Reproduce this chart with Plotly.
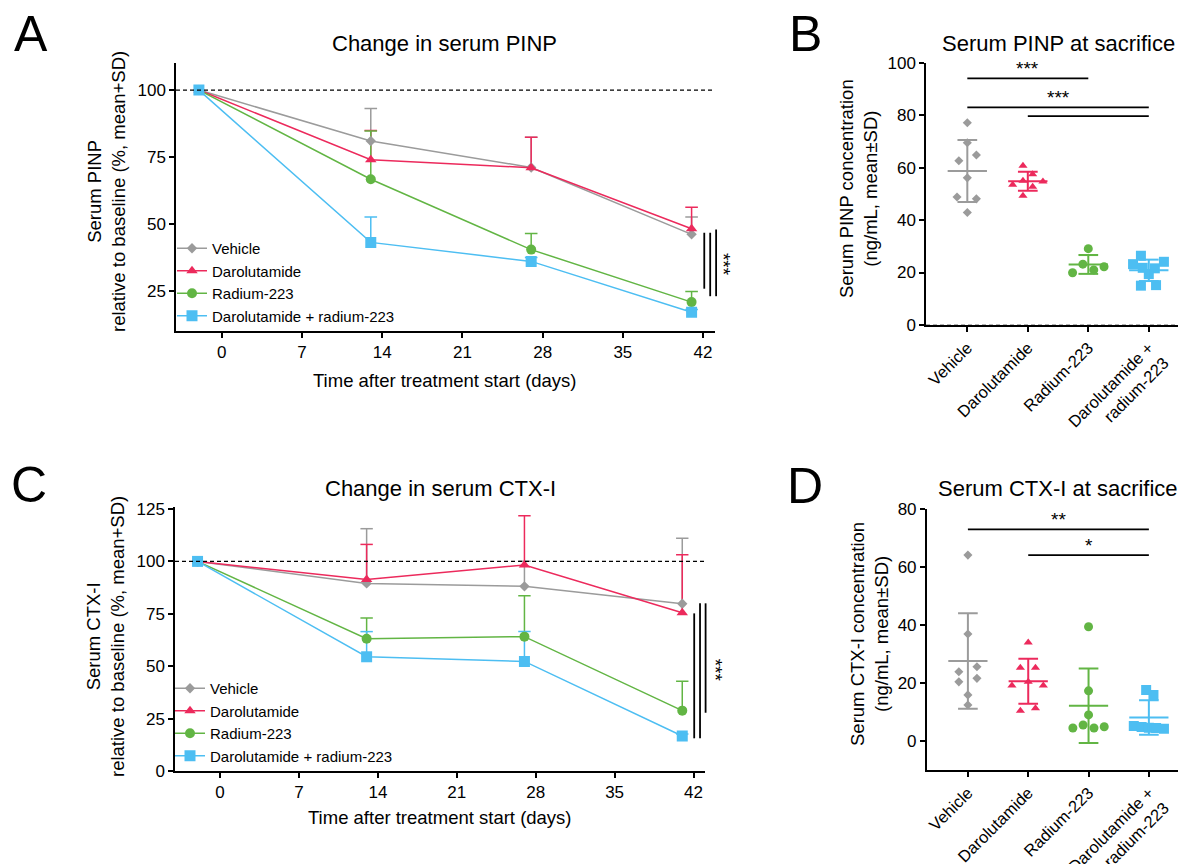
import numpy as np
import plotly.graph_objects as go

W, H = 1186, 864
OFF = 8  # the page body margin shifts the figure by 8 px; positions below are page pixels
FONT = "Liberation Sans, Arial, Helvetica, sans-serif"

# ---------------- data ----------------
groups = ["Vehicle", "Darolutamide", "Radium-223", "Darolutamide + radium-223"]
cat_ticktext = ["Vehicle", "Darolutamide", "Radium-223", "Darolutamide +<br>radium-223"]
days = [-2, 13, 27, 41]
day_ticks = [0, 7, 14, 21, 28, 35, 42]

# Panel A: serum PINP relative to baseline (%), mean and SD
pinp_rel_vehicle = [100, 81.0, 71.1, 46.1]
pinp_rel_daro = [100, 74.0, 71.0, 48.2]
pinp_rel_radium = [100, 66.7, 40.4, 20.8]
pinp_rel_combo = [100, 43.1, 36.0, 17.0]
pinp_sd_vehicle = [0, 12.1, 11.3, 6.5]
pinp_sd_daro = [0, 10.9, 11.4, 8.0]
pinp_sd_radium = [0, 18.0, 6.0, 4.0]
pinp_sd_combo = [0, 9.5, 1.5, 1.0]

# Panel C: serum CTX-I relative to baseline (%), mean and SD
ctx_rel_vehicle = [100, 89.5, 88.1, 79.8]
ctx_rel_daro = [100, 91.4, 98.3, 75.5]
ctx_rel_radium = [100, 63.1, 64.1, 28.8]
ctx_rel_combo = [100, 54.5, 52.3, 16.7]
ctx_sd_vehicle = [0, 26.1, 12.0, 31.2]
ctx_sd_daro = [0, 16.7, 23.5, 27.7]
ctx_sd_radium = [0, 9.9, 19.5, 14.0]
ctx_sd_combo = [0, 12.0, 14.2, 1.0]

# Panel B: serum PINP at sacrifice (ng/mL), individual animals
pinp_sac_vehicle = [77.1, 69.5, 64.8, 62.6, 56.1, 48.8, 48.1, 42.9]
pinp_sac_daro = [60.7, 57.5, 55.0, 54.7, 53.5, 52.7, 49.3]
pinp_sac_radium = [29.1, 23.2, 22.2, 21.0, 19.9]
pinp_sac_combo = [26.4, 24.1, 23.2, 21.8, 21.6, 19.4, 15.2, 15.0]

# Panel D: serum CTX-I at sacrifice (ng/mL), individual animals
ctx_sac_vehicle = [64.1, 36.9, 25.6, 23.9, 21.6, 20.4, 15.9, 12.4]
ctx_sac_daro = [34.0, 25.3, 25.3, 20.4, 19.1, 19.1, 11.3, 10.4]
ctx_sac_radium = [39.4, 17.3, 9.0, 5.5, 4.9, 4.5, 4.5]
ctx_sac_combo = [17.6, 15.9, 5.2, 4.8, 4.6, 4.5, 4.2]

# significance brackets: (group a, group b, y level, label)
pinp_brackets = [(0, 2, 94.0, "***"), (0, 3, 83.0, "***"), (1, 3, 79.6, "")]
ctx_brackets = [(0, 3, 73.0, "**"), (1, 3, 64.1, "*")]

# ---------------- styles / layout helpers ----------------
colors = ["#9B9B9B", "#EC2A5C", "#62B544", "#4DBEF2"]
symbols = ["diamond", "triangle-up", "circle", "square"]
line_msize = [8, 10, 10, 11]
dot_msize = [7, 8, 9, 10]

# horizontal jitter of dots (category units) -- layout only
jit_b = [
    [0, 0, 0.15, -0.14, 0, -0.17, 0.15, 0],
    [-0.08, 0.08, -0.08, 0.25, -0.25, 0.08, -0.08],
    [0, -0.09, 0.26, 0.09, -0.26],
    [-0.13, 0.25, -0.26, -0.1, 0.1, 0, 0.12, -0.13],
]
jit_d = [
    [0, 0, 0.15, -0.15, 0.15, -0.15, 0, 0],
    [0, -0.13, 0.12, 0, -0.27, 0.25, 0.12, -0.13],
    [0, 0, 0, -0.09, 0.26, -0.26, 0.09],
    [-0.045, 0.076, -0.25, -0.12, 0, 0.12, 0.25],
]


def px_x(x):
    return (x - OFF) / W


def px_y(y):
    return 1 - (y - OFF) / H


def dom_x(a, b):
    return [px_x(a), px_x(b)]


def dom_y(top, bottom):
    return [px_y(bottom), px_y(top)]


fig = go.Figure()

# ---------------- line panels (A, C) ----------------
def add_line_panel(means, sds, xa, ya, legend):
    cw = 0.55
    for i, (m, s) in enumerate(zip(means, sds)):
        ex, ey = [], []
        for d, mv, sv in zip(days, m, s):
            if sv and sv > 0:
                ex += [d, d, None, d - cw, d + cw, None]
                ey += [mv, mv + sv, None, mv + sv, mv + sv, None]
        fig.add_trace(go.Scatter(x=ex, y=ey, mode="lines", showlegend=False,
                                 line=dict(color=colors[i], width=1.5),
                                 hoverinfo="skip", xaxis=xa, yaxis=ya))
    for i, m in enumerate(means):
        fig.add_trace(go.Scatter(
            x=days, y=m, mode="lines+markers", name=groups[i], legend=legend,
            line=dict(color=colors[i], width=1.5),
            marker=dict(symbol=symbols[i], size=line_msize[i], color=colors[i]),
            xaxis=xa, yaxis=ya))


add_line_panel([pinp_rel_vehicle, pinp_rel_daro, pinp_rel_radium, pinp_rel_combo],
               [pinp_sd_vehicle, pinp_sd_daro, pinp_sd_radium, pinp_sd_combo],
               "x", "y", "legend")
add_line_panel([ctx_rel_vehicle, ctx_rel_daro, ctx_rel_radium, ctx_rel_combo],
               [ctx_sd_vehicle, ctx_sd_daro, ctx_sd_radium, ctx_sd_combo],
               "x3", "y3", "legend2")

# ---------------- dot panels (B, D) ----------------
def add_dot_panel(values, jit, xa, ya):
    mw, cw = 0.325, 0.163
    for i, v in enumerate(values):
        v = np.asarray(v, dtype=float)
        fig.add_trace(go.Scatter(
            x=i + np.asarray(jit[i]), y=v, mode="markers", showlegend=False,
            marker=dict(symbol=symbols[i], size=dot_msize[i], color=colors[i]),
            xaxis=xa, yaxis=ya))
        m, s = v.mean(), v.std(ddof=1)
        fig.add_trace(go.Scatter(
            x=[i - mw, i + mw, None, i, i, None, i - cw, i + cw, None, i - cw, i + cw],
            y=[m, m, None, m - s, m + s, None, m + s, m + s, None, m - s, m - s],
            mode="lines", showlegend=False, hoverinfo="skip",
            line=dict(color=colors[i], width=2), xaxis=xa, yaxis=ya))


add_dot_panel([pinp_sac_vehicle, pinp_sac_daro, pinp_sac_radium, pinp_sac_combo], jit_b, "x2", "y2")
add_dot_panel([ctx_sac_vehicle, ctx_sac_daro, ctx_sac_radium, ctx_sac_combo], jit_d, "x4", "y4")

shapes = []
annotations = []

for brackets, xr, yr in [(pinp_brackets, "x2", "y2"), (ctx_brackets, "x4", "y4")]:
    for a, b, yv, lab in brackets:
        shapes.append(dict(type="line", xref=xr, yref=yr, x0=a, x1=b, y0=yv, y1=yv,
                           line=dict(color="black", width=1.8)))
        if lab:
            annotations.append(dict(xref=xr, yref=yr, x=(a + b) / 2, y=yv, text=lab,
                                    showarrow=False, yanchor="bottom", yshift=-3,
                                    font=dict(size=19, color="black")))

# dashed 100 % reference lines
for yr in ["y", "y3"]:
    shapes.append(dict(type="line", xref=yr.replace("y", "x") + " domain", yref=yr,
                       x0=0, x1=1, y0=100, y1=100,
                       line=dict(color="black", width=1.3, dash="4px,3px")))
# dashed zero line in B
shapes.append(dict(type="line", xref="x2 domain", yref="y2", x0=0, x1=1, y0=0, y1=0,
                   line=dict(color="#9a9a9a", width=1.5, dash="4px,3px")))

# significance bars for line panels (x in domain units, y in data units)
sig_a = [(0.981, 46.7, 25.8), (0.992, 46.7, 23.0), (1.003, 47.9, 23.0)]
sig_c = [(0.980, 75.2, 15.6), (0.991, 80.0, 15.6), (1.0015, 80.0, 27.8)]
for sig, xr, yr in [(sig_a, "x domain", "y"), (sig_c, "x3 domain", "y3")]:
    for xd, y0, y1 in sig:
        shapes.append(dict(type="line", xref=xr, yref=yr, x0=xd, x1=xd, y0=y0, y1=y1,
                           line=dict(color="black", width=1.8)))
annotations.append(dict(xref="x domain", yref="y", x=1.0165, y=34.9, text="***",
                        textangle=90, showarrow=False, xanchor="center",
                        font=dict(size=19, color="black")))
annotations.append(dict(xref="x3 domain", yref="y3", x=1.0205, y=48.0, text="***",
                        textangle=90, showarrow=False, xanchor="center",
                        font=dict(size=19, color="black")))

# text labels
def ann(text, x, y, size, angle=0, **kw):
    annotations.append(dict(xref="paper", yref="paper", x=px_x(x), y=px_y(y), text=text,
                            showarrow=False, textangle=angle, xanchor="center",
                            yanchor="middle", font=dict(size=size, color="black"), **kw))


for lab, x, y in [("A", 31, 34), ("B", 805, 34), ("C", 29, 485), ("D", 805, 486)]:
    ann(lab, x, y, 50)
ann("Change in serum PINP", 445, 43, 22)
ann("Serum PINP at sacrifice", 1058, 44, 22)
ann("Change in serum CTX-I", 440, 488, 22)
ann("Serum CTX-I at sacrifice", 1058, 488, 22)
ann("Time after treatment start (days)", 445, 380, 18.5)
ann("Time after treatment start (days)", 440, 817, 18.5)
ann("Serum PINP<br>relative to baseline (%, mean+SD)", 106, 191, 18.5, angle=-90)
ann("Serum CTX-I<br>relative to baseline (%, mean+SD)", 105, 637, 18.5, angle=-90)
ann("Serum PINP concentration<br>(ng/mL, mean±SD)", 859, 189, 18.5, angle=-90)
ann("Serum CTX-I concentration<br>(ng/mL, mean±SD)", 869, 634, 18.5, angle=-90)

ax = dict(showline=True, linecolor="black", linewidth=1.5, ticks="outside", ticklen=5,
          tickwidth=1.5, tickcolor="black", showgrid=False, zeroline=False,
          automargin=False, tickfont=dict(size=17, color="black"))
cat_ax = dict(ax, tickvals=[0, 1, 2, 3], ticktext=cat_ticktext, tickangle=-45,
              range=[-0.683, 3.516], tickfont=dict(size=16.5, color="black"))

legend_style = dict(xanchor="left", yanchor="top", bgcolor="rgba(0,0,0,0)",
                    font=dict(size=15, color="black"), itemwidth=30, tracegroupgap=0)

fig.update_layout(
    width=W, height=H, margin=dict(l=0, r=0, t=0, b=0, autoexpand=False),
    paper_bgcolor="white", plot_bgcolor="white",
    font=dict(family=FONT, color="black"),
    xaxis=dict(ax, domain=dom_x(176, 714.5), range=[-4, 43], tickvals=day_ticks, anchor="y"),
    yaxis=dict(ax, domain=dom_y(63.3, 331), range=[10, 110], tickvals=[25, 50, 75, 100], anchor="x"),
    xaxis2=dict(cat_ax, domain=dom_x(926, 1180), anchor="y2"),
    yaxis2=dict(ax, domain=dom_y(62.7, 325), range=[0, 100], tickvals=[0, 20, 40, 60, 80, 100], anchor="x2"),
    xaxis3=dict(ax, domain=dom_x(175, 704.8), range=[-4, 43], tickvals=day_ticks, anchor="y3"),
    yaxis3=dict(ax, domain=dom_y(506.9, 771), range=[0, 126], tickvals=[0, 25, 50, 75, 100, 125], anchor="x3"),
    xaxis4=dict(cat_ax, domain=dom_x(926.7, 1180), anchor="y4"),
    yaxis4=dict(ax, domain=dom_y(509, 770), range=[-10, 80], tickvals=[0, 20, 40, 60, 80], anchor="x4"),
    legend=dict(legend_style, x=px_x(172), y=px_y(232)),
    legend2=dict(legend_style, x=px_x(170), y=px_y(672)),
    shapes=shapes, annotations=annotations,
)

fig.write_html("out.html")
